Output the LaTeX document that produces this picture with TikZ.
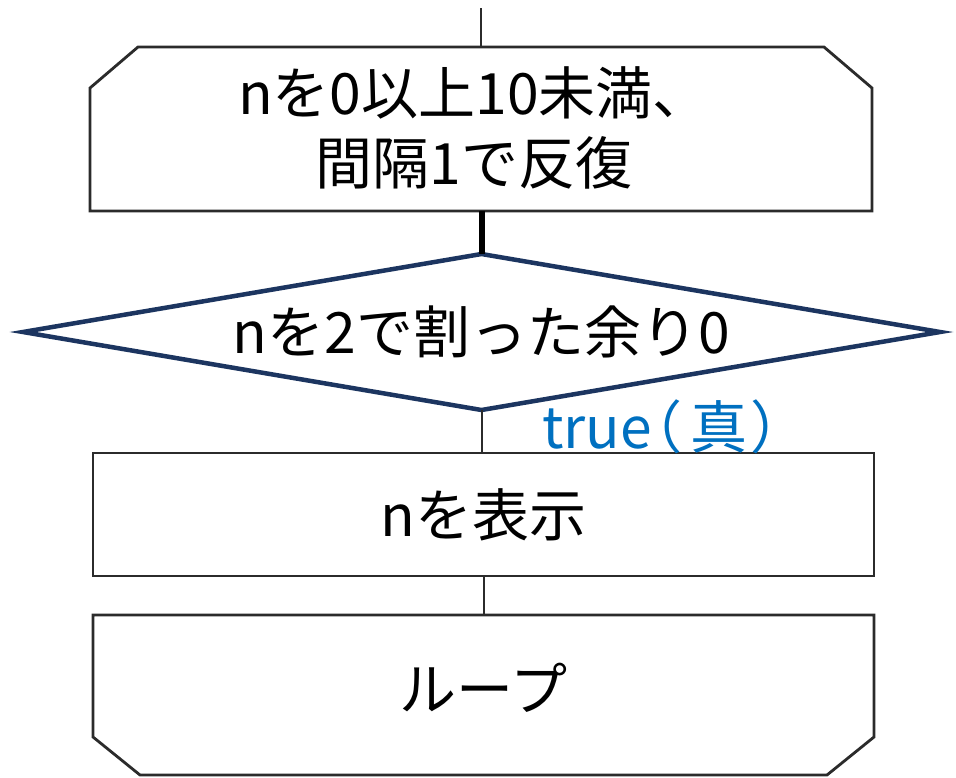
\documentclass[tikz,border=0pt]{standalone}
\usepackage{fontspec}
\setmainfont{Noto Sans CJK JP}
\newfontfamily\jpp[RawFeature=+palt]{Noto Sans CJK JP}
\usetikzlibrary{calc}
\definecolor{boxline}{HTML}{2B2B2B}
\definecolor{navyline}{HTML}{1C3560}
\definecolor{trueblue}{HTML}{0070C0}
\begin{document}
\begin{tikzpicture}[x=1pt,y=-1pt,
  shapebox/.style={draw=none, inner sep=0pt, outer sep=0pt, align=center,
    font=\fontsize{57}{70}\selectfont},
  outline/.style={draw=boxline, line width=2.8pt, line join=miter},
  thinlink/.style={draw=boxline, line width=2pt},
  thicklink/.style={draw=black, line width=6pt},
  condline/.style={draw=navyline, line width=4.5pt, line join=miter},
  truelabel/.style={font=\jpp\fontsize{57}{57}\selectfont, text=trueblue,
    anchor=base west, inner sep=0pt}
]
\fill[white] (0,0) rectangle (956,777);
\useasboundingbox (0,0) rectangle (956,777);

% loop start (chamfered top)
\node[shapebox, minimum width=782pt, minimum height=164pt] (ls) at (481,129) {};
\node[shapebox] (lstext) at (474,128) {nを0以上10未満、\\間隔1で反復};
\draw[outline] (ls.south west) -- ($(ls.north west)+(0,41)$) -- ($(ls.north west)+(48,0)$)
  -- ($(ls.north east)+(-48,0)$) -- ($(ls.north east)+(0,41)$) -- (ls.south east) -- cycle;

% condition diamond
\node[shapebox, minimum width=917pt, minimum height=156pt] (cond) at (481.5,332)
  {nを2で割った余り0};
\draw[condline] (cond.west) -- (cond.north) -- (cond.east) -- (cond.south) -- cycle;

% display box
\node[shapebox, minimum width=781pt, minimum height=123pt] (disp) at (483.5,514.5)
  {nを表示};
\draw[outline] (disp.south west) rectangle (disp.north east);

% loop end (chamfered bottom)
\node[shapebox, minimum width=781pt, minimum height=160pt] (le) at (483.5,695) {};
\node[shapebox] (letext) at (483.5,688) {ループ};
\draw[outline] (le.north west) -- ($(le.south west)+(0,-38)$) -- ($(le.south west)+(47,0)$)
  -- ($(le.south east)+(-47,0)$) -- ($(le.south east)+(0,-38)$) -- (le.north east) -- cycle;

% connectors
\coordinate (entry) at (481,8);
\draw[thinlink] (entry) -- (entry |- ls.north);
\draw[thicklink] (ls.south -| cond.north) -- (cond.north);
\draw[thinlink] (cond.south) -- (cond.south |- disp.north);
\draw[thinlink] (disp.south) -- (le.north);

% branch label
\node[truelabel] (tlabel) at (542,448) {true（\kern10pt 真\kern5pt）};
\end{tikzpicture}
\end{document}
